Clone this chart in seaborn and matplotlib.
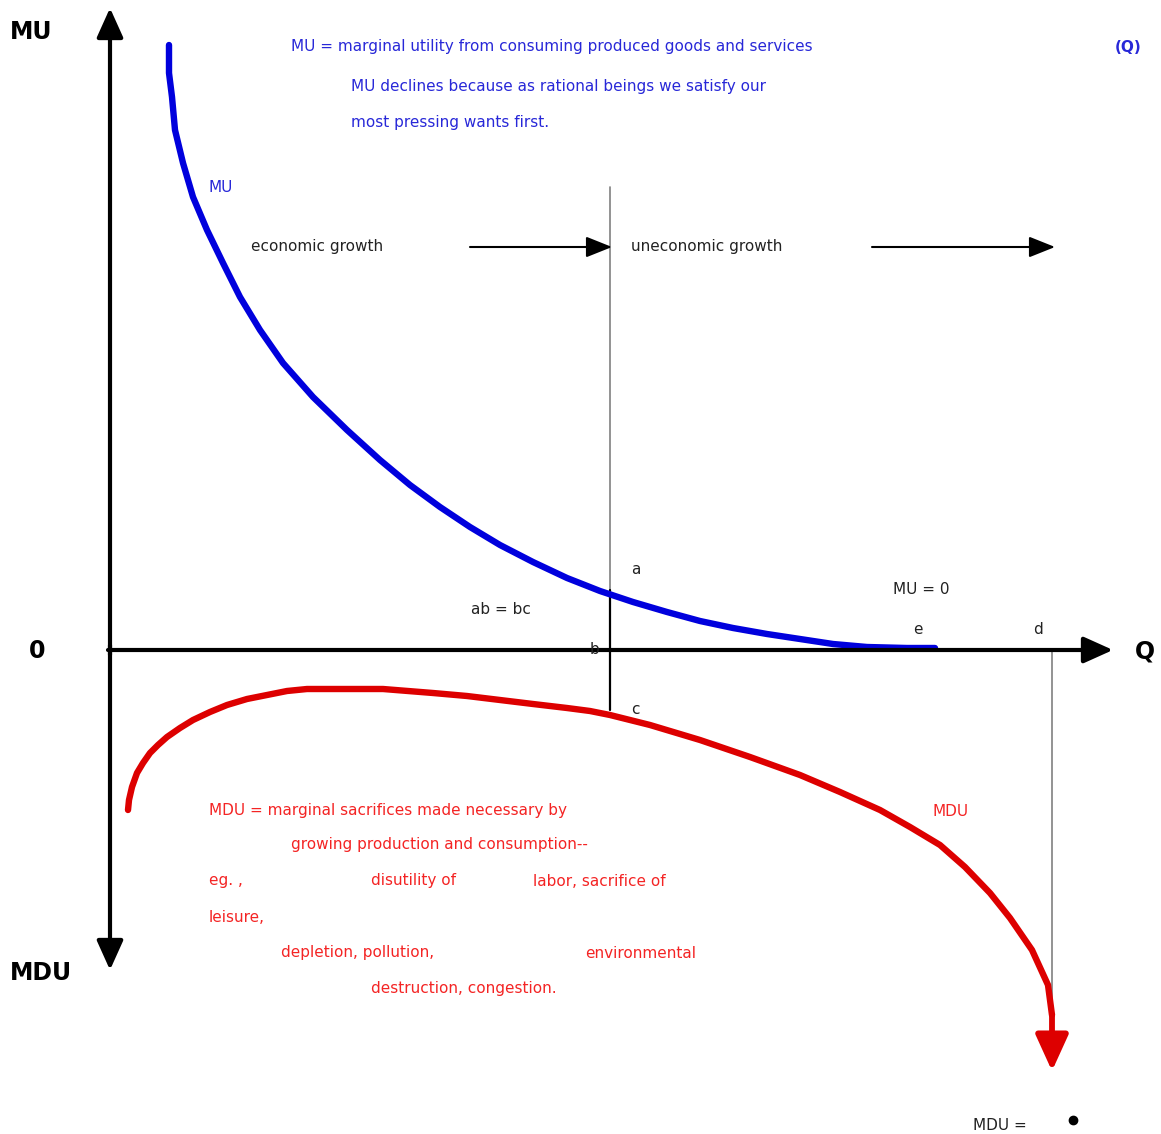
import matplotlib
matplotlib.use("Agg")
import matplotlib.pyplot as plt
import seaborn as sb
import numpy as np

# Courbe MU (utilité marginale), Q en abscisse
mu_q = [59, 59, 62, 65, 73, 83, 97, 113, 130, 150, 173, 203, 237, 270, 300,
        330, 360, 390, 423, 457, 490, 523, 557, 590, 623, 657, 690, 723, 757,
        797, 825]
mu_val = [605, 577, 553, 520, 487, 453, 420, 387, 353, 320, 287, 253, 220,
          190, 165, 143, 123, 105, 88, 72, 59, 48, 38, 29, 22, 16, 11, 6, 3,
          2, 2]

# Courbe MDU (désutilité marginale), négative
mdu_q = [18, 19, 22, 27, 33, 40, 48, 57, 70, 83, 100, 117, 137, 157, 177,
         197, 273, 323, 357, 390, 423, 457, 480, 500, 540, 590, 640, 690,
         730, 770, 800, 830, 855, 880, 900, 922, 938, 942]
mdu_val = [-160, -150, -137, -123, -113, -103, -95, -87, -78, -70, -62, -55,
           -49, -45, -41, -39, -39, -43, -46, -50, -54, -58, -61, -65, -75,
           -90, -107, -125, -142, -160, -177, -195, -217, -243, -268, -300,
           -335, -365]

q_growth = 500      # point b (MU = MDU en valeur absolue)
q_d = 942           # point d
mdu_arrow_tip = -421

BLUE = "#0000dd"
BLUE_TXT = "#2828d8"
RED = "#dd0000"
RED_TXT = "#f42424"

sb.set_theme(style="white")
plt.rcParams["font.family"] = ["DejaVu Sans"]

fig = plt.figure(figsize=(11.61, 11.34), dpi=100)
ax = fig.add_axes([0, 0, 1, 1])
ax.set_xlim(-110, 1051)
ax.set_ylim(-484, 650)
ax.axis("off")


def arrow(x0, y0, x1, y1, color="black", lw=3, hl=1.0, hw=0.45, ms=18):
    ax.annotate("", xy=(x1, y1), xytext=(x0, y0),
                arrowprops=dict(arrowstyle=f"-|>,head_length={hl},head_width={hw}",
                                color=color, lw=lw, mutation_scale=ms,
                                shrinkA=0, shrinkB=0))


# Axes
arrow(0, -5, 0, 642)
arrow(0, 5, 0, -320)
arrow(-2, 0, 1003, 0)

# Lignes verticales
ax.plot([q_growth, q_growth], [463, 60], color="#808080", lw=1.2)
ax.plot([q_growth, q_growth], [60, -60], color="black", lw=1.6)
ax.plot([q_d, q_d], [0, -360], color="#808080", lw=1.2)

# Courbes
sb.lineplot(x=mu_q, y=mu_val, sort=False, estimator=None, color=BLUE,
            lw=4.6, ax=ax, solid_capstyle="round", solid_joinstyle="round")
sb.lineplot(x=mdu_q, y=mdu_val, sort=False, estimator=None, color=RED,
            lw=4.6, ax=ax, solid_capstyle="round", solid_joinstyle="round")
arrow(mdu_q[-1], mdu_val[-1], mdu_q[-1], mdu_arrow_tip, color=RED, lw=4.2,
      hl=1.1, hw=0.5, ms=20)

# Flèches croissance
arrow(360, 403, 502, 403, lw=1.5, hl=0.8, hw=0.32, ms=20)
arrow(762, 403, 945, 403, lw=1.5, hl=0.8, hw=0.32, ms=20)

# Grands titres
big = dict(fontsize=17, fontweight="bold", va="center", color="black")
ax.text(-100, 618, "MU", ha="left", **big)
ax.text(-73, -1, "0", ha="center", **big)
ax.text(1035, -1, "Q", ha="center", **big)
ax.text(-100, -323, "MDU", ha="left", **big)
ax.text(1018, 602, "(Q)", ha="center", va="center", fontsize=11,
        fontweight="bold", color=BLUE_TXT)

fs = 11
def txt(x, y, s, color="#222222"):
    ax.text(x, y, s, fontsize=fs, ha="left", va="center", color=color)

txt(181, 603, "MU = marginal utility from consuming produced goods and services", BLUE_TXT)
txt(241, 563, "MU declines because as rational beings we satisfy our", BLUE_TXT)
txt(241, 527, "most pressing wants first.", BLUE_TXT)
txt(99, 463, "MU", BLUE_TXT)
txt(141, 403, "economic growth")
txt(521, 403, "uneconomic growth")
txt(521, 81, "a")
txt(361, 41, "ab = bc")
txt(783, 61, "MU = 0")
txt(803, 21, "e")
txt(923, 21, "d")
txt(480, 1, "b")
txt(521, -59, "c")

txt(99, -161, "MDU = marginal sacrifices made necessary by", RED_TXT)
txt(823, -161, "MDU", RED_TXT)
txt(181, -195, "growing production and consumption--", RED_TXT)
txt(99, -231, "eg. ,", RED_TXT)
txt(261, -231, "disutility of", RED_TXT)
txt(423, -231, "labor, sacrifice of", RED_TXT)
txt(99, -267, "leisure,", RED_TXT)
txt(171, -303, "depletion, pollution,", RED_TXT)
txt(475, -303, "environmental", RED_TXT)
txt(261, -339, "destruction, congestion.", RED_TXT)

txt(863, -475, "MDU =")
ax.plot([963], [-470], marker="o", ms=6, color="black")

plt.savefig("out.png", dpi=100)
